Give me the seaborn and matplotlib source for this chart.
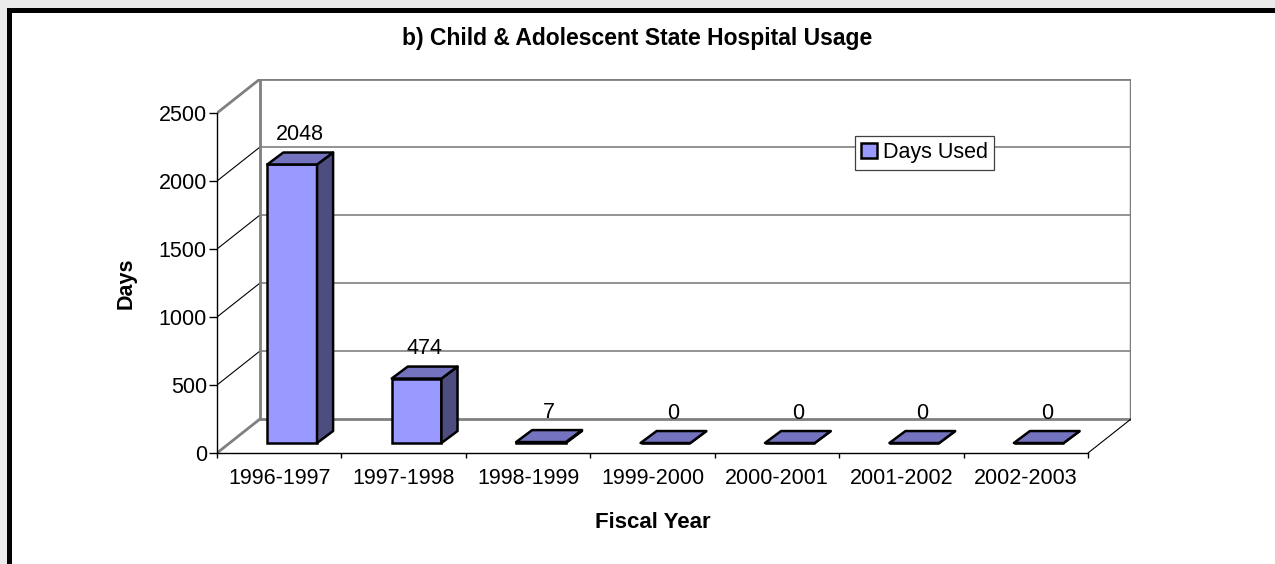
import pandas as pd
import seaborn as sns
import matplotlib
matplotlib.use("Agg")
from matplotlib import pyplot as plt
from matplotlib.patches import Polygon, Rectangle

# Daten
years = ["1996-1997", "1997-1998", "1998-1999", "1999-2000", "2000-2001", "2001-2002", "2002-2003"]
days_used = [2048, 474, 7, 0, 0, 0, 0]
y_ticks = [0, 500, 1000, 1500, 2000, 2500]

df = pd.DataFrame({"Fiscal Year": years, "Days": days_used})

sns.set_style("white")
plt.rcParams["font.family"] = ["Liberation Sans", "DejaVu Sans"]
plt.rcParams["text.color"] = "black"
plt.rcParams["axes.labelcolor"] = "black"
plt.rcParams["xtick.color"] = "black"
plt.rcParams["ytick.color"] = "black"

W, H = 1275, 564
fig = plt.figure(figsize=(W / 100, H / 100), dpi=100)
fig.patch.set_facecolor("#ebebeb")
# dicker schwarzer Rahmen oben/links
fig.add_artist(Rectangle((8.5 / W, -0.05), 1.1, (H - 9.5) / H + 0.05, transform=fig.transFigure,
                         facecolor="white", edgecolor="black", linewidth=3.6, zorder=-5))

# 3D-Geometrie (Excel-Stil)
x0, x1 = -0.5, 6.5
dxw, dyw = 0.3456, 250      # Tiefe der Wände
dx0, dy0 = 0.104, 73.5      # Balken-Vorderseite etwas nach hinten versetzt
dxb, dyb = 0.129, 88        # Balkentiefe
bw = 0.40
ymax = y_ticks[-1]
gray = "#808080"

ax = fig.add_axes([217 / W, 111 / H, (7 + dxw) * 124.43 / W, (ymax + dyw) * 0.136 / H])
ax.patch.set_alpha(0)

sns.barplot(data=df, x="Fiscal Year", y="Days", width=bw, color="#9999FF", saturation=1,
            edgecolor="black", linewidth=1.8, label="Days Used", ax=ax, zorder=4)

bars = list(ax.patches)
for p in bars:
    p.set_x(p.get_x() + dx0)
    p.set_y(dy0)
    xl, xr = p.get_x(), p.get_x() + p.get_width()
    yb, yt = p.get_y(), p.get_y() + p.get_height()
    top = Polygon([(xl, yt), (xr, yt), (xr + dxb, yt + dyb), (xl + dxb, yt + dyb)], closed=True,
                  facecolor="#7373C0", edgecolor="black", linewidth=1.8, zorder=4, joinstyle="round")
    side = Polygon([(xr, yb), (xr + dxb, yb + dyb), (xr + dxb, yt + dyb), (xr, yt)], closed=True,
                   facecolor="#4D4D80", edgecolor="black", linewidth=1.8, zorder=4, joinstyle="round")
    ax.add_patch(side)
    ax.add_patch(top)

# Wertebeschriftung
for i, v in enumerate(days_used):
    ax.annotate(str(v), (i + 0.17, v + dy0 + dyb), xytext=(0, 9), textcoords="offset points",
                ha="center", va="baseline", fontsize=15.5, zorder=6)

# Rückwand und Seitenwand
for v in y_ticks[1:-1]:
    ax.plot([x0 + dxw, x1 + dxw], [v + dyw, v + dyw], color=gray, lw=1.2, zorder=1)
    ax.plot([x0, x0 + dxw], [v, v + dyw], color="black", lw=0.8, zorder=1)
ax.plot([x0 + dxw, x1 + dxw], [ymax + dyw, ymax + dyw], color=gray, lw=2, zorder=1)
ax.plot([x0 + dxw, x1 + dxw], [dyw, dyw], color=gray, lw=2, zorder=1)
ax.plot([x0 + dxw, x0 + dxw], [dyw, ymax + dyw], color=gray, lw=2, zorder=1)
ax.plot([x1 + dxw, x1 + dxw], [dyw, ymax + dyw], color=gray, lw=2.5, zorder=1)
ax.plot([x0, x0 + dxw], [ymax, ymax + dyw], color=gray, lw=2, zorder=1)
ax.plot([x0, x0 + dxw], [0, dyw], color=gray, lw=2, zorder=1)
ax.plot([x1, x1 + dxw], [0, dyw], color="black", lw=0.8, zorder=1)

ax.set_xlim(x0, x1 + dxw)
ax.set_ylim(0, ymax + dyw)

for s in ["top", "right"]:
    ax.spines[s].set_visible(False)
ax.spines["left"].set_bounds(0, ymax)
ax.spines["bottom"].set_bounds(x0, x1)
ax.spines["left"].set_color("black")
ax.spines["bottom"].set_color("black")
ax.spines["left"].set_linewidth(1)
ax.spines["bottom"].set_linewidth(1)

ax.set_yticks(y_ticks)
ax.set_xticks(range(len(years)), years)
ax.set_xticks([x0 + k for k in range(len(years) + 1)], minor=True)
ax.tick_params(axis="y", left=True, direction="out", length=5.8, width=1, pad=1.5, labelsize=15.5, colors="black")
ax.tick_params(axis="x", which="major", bottom=True, length=0, pad=11, labelsize=15.5, colors="black")
ax.tick_params(axis="x", which="minor", bottom=True, direction="out", length=3.6, width=1, colors="black")

ax.set_xlabel("Fiscal Year", fontsize=16, fontweight="bold", color="black")
ax.set_ylabel("Days", fontsize=15.5, fontweight="bold", color="black")
ax.xaxis.set_label_coords(0.4767, -0.158)
ax.yaxis.set_label_coords(-0.0875, 0.4545)
ax.set_title("b) Child & Adolescent State Hospital Usage", fontsize=16.5, fontweight="bold",
             x=0.460, y=(453 - 47) / 374, va="center", color="black")

leg = ax.legend(loc="upper left", bbox_to_anchor=(855 / W, 1 - 136 / H), bbox_transform=fig.transFigure,
                borderaxespad=0, frameon=True, fancybox=False, edgecolor="#404040", framealpha=1,
                handlelength=0.7, handleheight=0.7, handletextpad=0.3, borderpad=0.3, fontsize=15.5)
leg.get_frame().set_linewidth(0.9)
for t in leg.get_texts():
    t.set_color("black")
leg.set_zorder(10)

fig.savefig("out.png", dpi=100, facecolor=fig.get_facecolor())
